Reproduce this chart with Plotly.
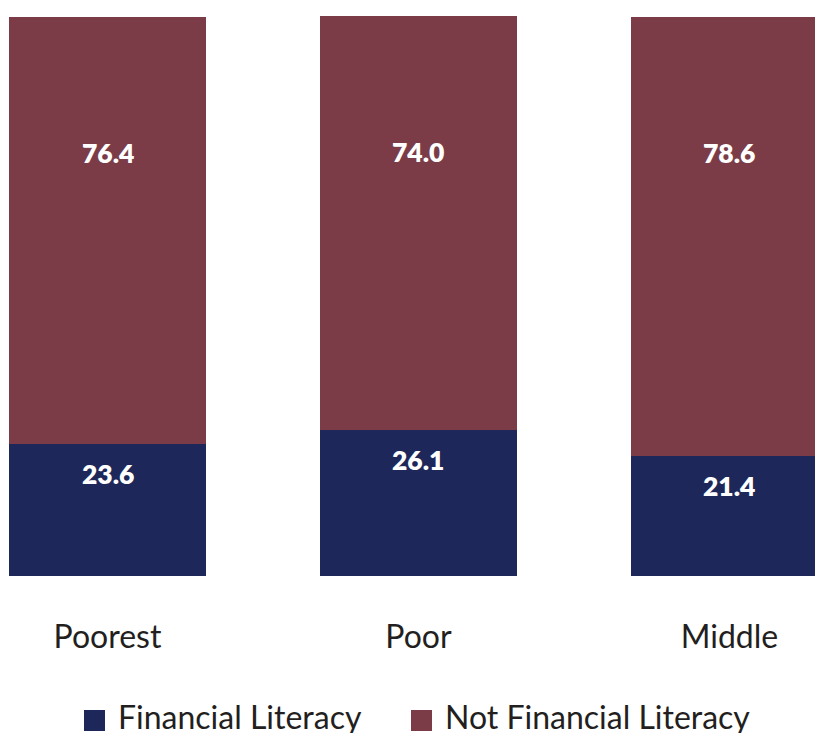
import plotly.graph_objects as go

# Share of adults by wealth group
categories = ["Poorest", "Poor", "Middle"]
financial_literacy = [23.6, 26.1, 21.4]
not_financial_literacy = [76.4, 74.0, 78.6]
series_names = ["Financial Literacy", "Not Financial Literacy"]

NAVY = "#1e2759"
MAROON = "#7b3c48"
TEXT = "#231f20"
FONT = "Lato"

W, H = 815, 733
M_TOP, M_BOT = 16, 157
plot_h = H - M_TOP - M_BOT
y_max = max(a + b for a, b in zip(financial_literacy, not_financial_literacy))

fig = go.Figure()
fig.add_bar(x=categories, y=financial_literacy, name=series_names[0],
            marker=dict(color=NAVY, line=dict(width=0)), hoverinfo="skip")
fig.add_bar(x=categories, y=not_financial_literacy, name=series_names[1],
            marker=dict(color=MAROON, line=dict(width=0)), hoverinfo="skip")

# Value labels inside each segment, near the segment top
label_font = dict(family=FONT, size=26.5, color="white", weight=800)
annotations = []
for cat, fl, nfl in zip(categories, financial_literacy, not_financial_literacy):
    annotations.append(dict(x=cat, y=fl, xref="x", yref="y", text=f"{fl:.1f}",
                            showarrow=False, yanchor="middle", yshift=-30,
                            font=label_font))
    annotations.append(dict(x=cat, y=fl + nfl, xref="x", yref="y", text=f"{nfl:.1f}",
                            showarrow=False, yanchor="middle", yshift=-136,
                            font=label_font))

# Legend drawn below the category labels with large square swatches
sq_y = (H - M_BOT - 720.5) / plot_h
txt_y = (H - M_BOT - 716.5) / plot_h
shapes = []
for name, color, sq_x, txt_x in [(series_names[0], NAVY, 94.5, 116),
                                 (series_names[1], MAROON, 421.5, 443)]:
    shapes.append(dict(type="rect", xref="paper", yref="paper",
                       xsizemode="pixel", ysizemode="pixel",
                       xanchor=sq_x / W, yanchor=sq_y,
                       x0=-10.5, x1=10.5, y0=-10.5, y1=10.5,
                       fillcolor=color, line=dict(width=0)))
    annotations.append(dict(x=txt_x / W, y=txt_y, xref="paper", yref="paper",
                            xanchor="left", yanchor="middle", showarrow=False,
                            text=name, font=dict(family=FONT, size=32, color=TEXT)))

fig.update_layout(
    width=W, height=H,
    margin=dict(l=0, r=0, t=M_TOP, b=M_BOT, pad=0),
    barmode="stack",
    bargap=0.367,
    showlegend=False,
    plot_bgcolor="white", paper_bgcolor="white",
    font=dict(family=FONT, color=TEXT),
    annotations=annotations,
    shapes=shapes,
)
fig.update_xaxes(range=[-0.3457, 2.275], showgrid=False, zeroline=False,
                 showline=False, ticks="", ticklabelstandoff=39,
                 tickfont=dict(family=FONT, size=32, color=TEXT))
fig.update_yaxes(range=[0, y_max], visible=False, showgrid=False, zeroline=False)

fig.write_html("out.html")
